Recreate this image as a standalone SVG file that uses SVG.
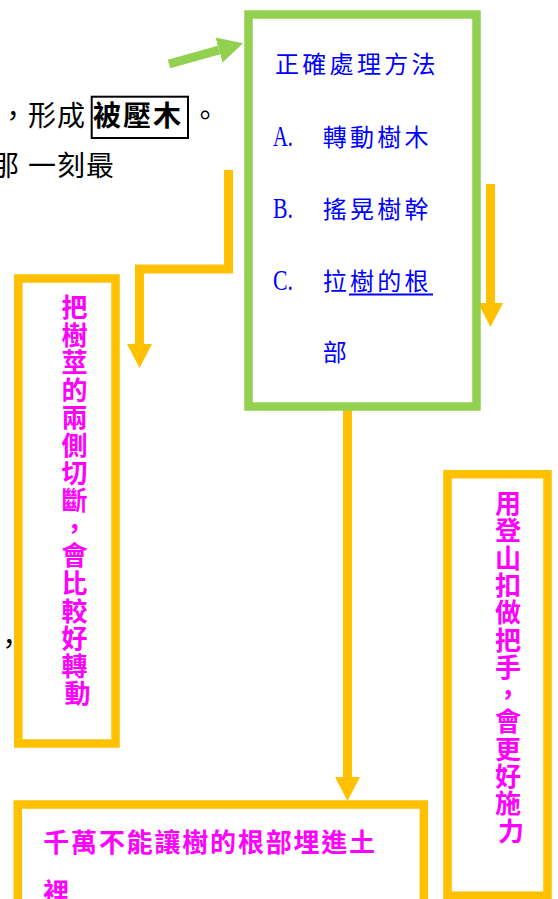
<svg xmlns="http://www.w3.org/2000/svg" width="558" height="899" viewBox="0 0 558 899">
<style>
  .box { fill: #ffffff; stroke-width: 8.5; }
  .green { stroke: #92D050; }
  .yellow { stroke: #FFC000; }
  .conn { fill: none; stroke-width: 9; stroke-linejoin: miter; }
  .blk { font-family: "Noto Sans CJK TC", "Noto Sans CJK SC", sans-serif; font-size: 28px; fill: #000000; }
  .blue { font-family: "Noto Sans CJK TC", "Noto Sans CJK SC", sans-serif; font-size: 24px; fill: #0000FF; letter-spacing: 3.3px; }
  .lat { font-family: "Liberation Serif", serif; font-size: 30px; fill: #0000FF; }
  .mag { font-family: "Noto Sans CJK TC", "Noto Sans CJK SC", sans-serif; font-size: 26px; font-weight: bold; fill: #FF00FF; }
</style>
<defs>
  <marker id="headY" markerUnits="userSpaceOnUse" viewBox="0 0 24 25" refX="0" refY="12.5" markerWidth="24" markerHeight="25" orient="auto">
    <path d="M0,0 L24,12.5 L0,25 Z" fill="#FFC000"/>
  </marker>
  <marker id="headG" markerUnits="userSpaceOnUse" viewBox="0 0 25 26" refX="0" refY="13" markerWidth="25" markerHeight="26" orient="auto">
    <path d="M0,0 L25,13 L0,26 Z" fill="#92D050"/>
  </marker>
</defs>
<rect width="558" height="899" fill="#ffffff"/>

<g id="paragraph">
  <text class="blk" x="-1" y="126" letter-spacing="1">，形成</text>
  <rect x="91.7" y="96.7" width="96.3" height="41.3" fill="none" stroke="#000000" stroke-width="2"/>
  <text class="blk" x="93" y="126" font-weight="bold" letter-spacing="2">被壓木</text>
  <text class="blk" x="191" y="126">。</text>
  <text class="blk" y="176"><tspan x="-9">那</tspan><tspan x="28">一</tspan><tspan x="57">刻</tspan><tspan x="86">最</tspan></text>
  <text class="blk" x="-5" y="654">，</text>
</g>

<g id="connectors">
  <line class="conn green" stroke="#92D050" stroke-width="8" x1="169" y1="64" x2="219" y2="50" marker-end="url(#headG)"/>
  <polyline class="conn yellow" points="228.5,170 228.5,269 139.5,269 139.5,344" marker-end="url(#headY)"/>
  <line class="conn yellow" x1="490.5" y1="184" x2="490.5" y2="303" marker-end="url(#headY)"/>
  <line class="conn yellow" x1="347.5" y1="410" x2="347.5" y2="777" marker-end="url(#headY)"/>
</g>

<g id="node-methods">
  <rect class="box green" x="248.5" y="14.5" width="228" height="392"/>
  <text class="blue" x="275" y="73">正確處理方法</text>
  <text class="lat" x="273" y="146" textLength="20" lengthAdjust="spacingAndGlyphs">A.</text>
  <text class="blue" x="322.7" y="146">轉動樹木</text>
  <text class="lat" x="273" y="218" textLength="20" lengthAdjust="spacingAndGlyphs">B.</text>
  <text class="blue" x="322.7" y="218">搖晃樹幹</text>
  <text class="lat" x="273" y="290" textLength="20" lengthAdjust="spacingAndGlyphs">C.</text>
  <text class="blue" x="322.7" y="290">拉樹的根</text>
  <line x1="349" y1="294.5" x2="433" y2="294.5" stroke="#0000FF" stroke-width="2"/>
  <text class="blue" x="322.7" y="361">部</text>
</g>

<g id="node-cut">
  <rect class="box yellow" x="18.3" y="278.5" width="97.2" height="465"/>
  <text class="mag" text-anchor="middle">
    <tspan x="77.5" y="317">把</tspan>
    <tspan x="77.5" dy="27.6">樹</tspan>
    <tspan x="77.5" dy="27.6">莖</tspan>
    <tspan x="77.5" dy="27.6">的</tspan>
    <tspan x="77.5" dy="27.6">兩</tspan>
    <tspan x="77.5" dy="27.6">側</tspan>
    <tspan x="77.5" dy="27.6">切</tspan>
    <tspan x="77.5" dy="27.6">斷</tspan>
    <tspan x="77.5" dy="27.6">，</tspan>
    <tspan x="77.5" dy="27.6">會</tspan>
    <tspan x="77.5" dy="27.6">比</tspan>
    <tspan x="77.5" dy="27.6">較</tspan>
    <tspan x="77.5" dy="27.6">好</tspan>
    <tspan x="77.5" dy="27.6">轉</tspan>
    <tspan x="77.5" dy="27.6">動</tspan>
  </text>
</g>

<g id="node-carabiner">
  <rect class="box yellow" x="447.5" y="474.2" width="100" height="421.5"/>
  <text class="mag" text-anchor="middle">
    <tspan x="511" y="513">用</tspan>
    <tspan x="511" dy="27.3">登</tspan>
    <tspan x="511" dy="27.3">山</tspan>
    <tspan x="511" dy="27.3">扣</tspan>
    <tspan x="511" dy="27.3">做</tspan>
    <tspan x="511" dy="27.3">把</tspan>
    <tspan x="511" dy="27.3">手</tspan>
    <tspan x="511" dy="27.3">，</tspan>
    <tspan x="511" dy="27.3">會</tspan>
    <tspan x="511" dy="27.3">更</tspan>
    <tspan x="511" dy="27.3">好</tspan>
    <tspan x="511" dy="27.3">施</tspan>
    <tspan x="511" dy="27.3">力</tspan>
  </text>
</g>

<g id="node-roots">
  <rect class="box yellow" x="17.8" y="804.5" width="406" height="130" stroke-width="9"/>
  <text class="mag" x="43.3" y="852" letter-spacing="1.8">千萬不能讓樹的根部埋進土</text>
  <text class="mag" x="43.3" y="902">裡</text>
</g>
</svg>
